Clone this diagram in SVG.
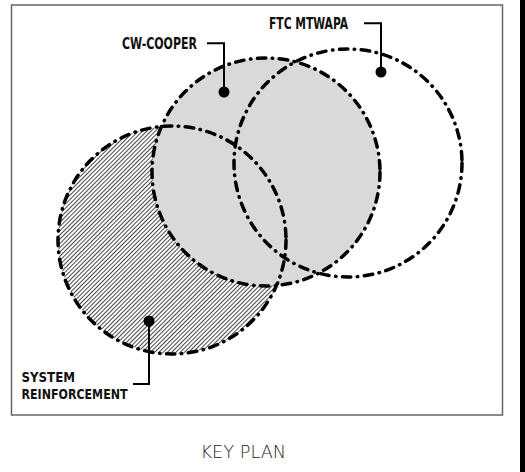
<svg xmlns="http://www.w3.org/2000/svg" width="525" height="472" viewBox="0 0 525 472">
  <style>
    .zone { stroke: #000; stroke-width: 3.5; stroke-linecap: round; stroke-dasharray: 8.5 6.5 0.5 6.5; }
    .lbl { font-family: "DejaVu Sans", "Liberation Sans", sans-serif; font-weight: bold; font-size: 16px; font-stretch: condensed; fill: #111; }
    .sm { font-size: 14px; }
    .title { font-family: "DejaVu Sans", "Liberation Sans", sans-serif; font-weight: 200; font-size: 18.5px; fill: #222; }
    .leader { fill: none; stroke: #000; stroke-width: 2; }
    .dot { fill: #000; }
  </style>
  <defs>
    <pattern id="hatch" patternUnits="userSpaceOnUse" width="3" height="3" patternTransform="rotate(45)">
      <line x1="1.5" y1="0" x2="1.5" y2="3" stroke="#333" stroke-width="0.9"/>
    </pattern>
  </defs>
  <rect x="0" y="0" width="525" height="472" fill="#fff"/>
  <rect id="frame" x="11.5" y="5" width="491" height="410" fill="none" stroke="#666" stroke-width="1.5"/>
  <rect x="520" y="0" width="5" height="472" fill="#000"/>

  <g id="system-reinforcement">
    <circle cx="172" cy="240" r="114" fill="#fff"/>
    <circle cx="172" cy="240" r="114" fill="url(#hatch)"/>
  </g>
  <g id="cw-cooper">
    <circle cx="266" cy="172" r="114" fill="#d9d9d9"/>
  </g>
  <g id="outlines">
    <circle class="zone" cx="172" cy="240" r="114" fill="none"/>
    <circle class="zone" cx="266" cy="172" r="114" fill="none"/>
    <circle class="zone" cx="348" cy="163" r="114" fill="none"/>
  </g>
  <g id="ftc-mtwapa">
    <circle class="dot" cx="381" cy="72" r="5.5"/>
    <text class="lbl" x="269" y="28.7" textLength="79" lengthAdjust="spacingAndGlyphs">FTC MTWAPA</text>
  </g>
  <g id="cw-cooper-label">
    <circle class="dot" cx="224" cy="92" r="5.5"/>
    <text class="lbl" x="122" y="49.3" textLength="75" lengthAdjust="spacingAndGlyphs">CW-COOPER</text>
  </g>
  <g id="system-reinforcement-label">
    <circle class="dot" cx="149" cy="321" r="5.5"/>
    <text class="lbl sm" x="21.5" y="381.7" textLength="53.5" lengthAdjust="spacingAndGlyphs">SYSTEM</text>
    <text class="lbl sm" x="21.5" y="398.7" textLength="106" lengthAdjust="spacingAndGlyphs">REINFORCEMENT</text>
  </g>
  <g id="connectors">
    <path class="leader" d="M207 43.3 H224 V92"/>
    <path class="leader" d="M364 23.3 H381 V72"/>
    <path class="leader" d="M133 384 H149 V321"/>
  </g>
  <g id="key-plan">
    <text class="title" x="200.5" y="457.7" textLength="85.5" lengthAdjust="spacingAndGlyphs">KEY PLAN</text>
  </g>
</svg>
